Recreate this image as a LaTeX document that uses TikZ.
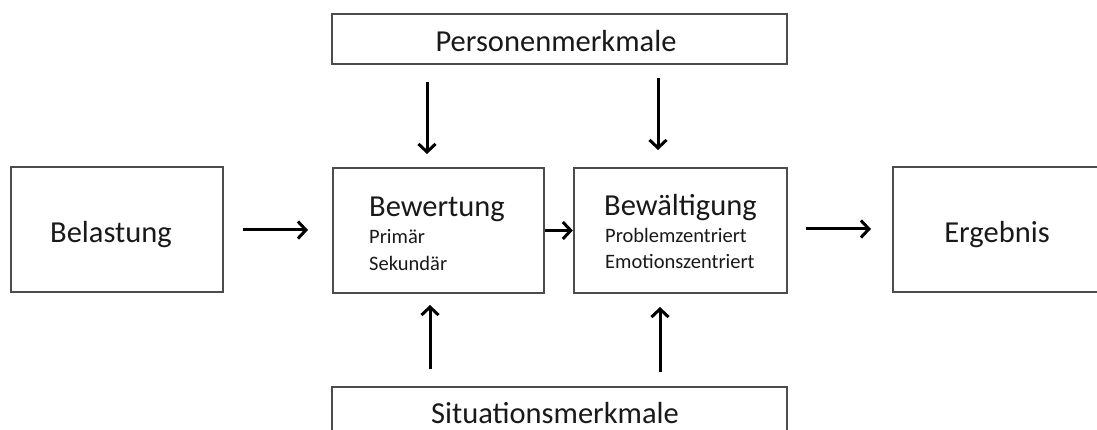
\documentclass[tikz,border=0pt]{standalone}
\usepackage{fontspec}
\setmainfont{Carlito}
\usetikzlibrary{arrows.meta}
\begin{document}
\begin{tikzpicture}[x=1pt,y=-1pt,
  box/.style={draw=black!70,line width=2.3pt,rectangle,inner sep=0pt},
  big/.style={font=\fontsize{30.5}{36}\selectfont,anchor=base,inner sep=0pt,text=black!90},
  bigl/.style={font=\fontsize{30.5}{36}\selectfont,anchor=base west,inner sep=0pt,text=black!90},
  small/.style={font=\fontsize{20.5}{24}\selectfont,anchor=base west,inner sep=0pt,text=black!90},
  arr/.style={line width=3pt,-{Straight Barb[length=8pt,width=17pt]}}]
\useasboundingbox (0,0) rectangle (1097,430);
\clip (0,0) rectangle (1097,430);
\fill[white] (0,0) rectangle (1097,430);
% boxes
\node[box,minimum width=455pt,minimum height=50pt] (pers) at (559.5,39) {};
\node[box,minimum width=211pt,minimum height=125pt] (bew) at (438.5,230.5) {};
\node[box,minimum width=213pt,minimum height=125pt] (bwg) at (680.5,230.5) {};
\node[box,minimum width=212pt,minimum height=125pt] (bel) at (117,229.5) {};
\node[box,minimum width=212pt,minimum height=125pt] (erg) at (999,229.5) {};
\node[box,minimum width=455pt,minimum height=50pt] (sit) at (559.5,412) {};
% texts
\node[big] (tpers) at (556,52) {Personenmerkmale};
\node[big] (tsit) at (555,423) {Situationsmerkmale};
\node[big] (tbel) at (111,243) {Belastung};
\node[big] (terg) at (997,243) {Ergebnis};
\node[bigl] (tbew) at (369,217) {Bewertung};
\node[small] (tbew1) at (369,244) {Primär};
\node[small] (tbew2) at (369,270) {Sekundär};
\node[bigl] (tbwg) at (604,216) {Bewältigung};
\node[small] (tbwg1) at (605,243) {Problemzentriert};
\node[small] (tbwg2) at (605,269) {Emotionszentriert};
% arrow end points
\coordinate (a1s) at (243,230); \coordinate (a1e) at (308,230);
\coordinate (a3s) at (806,229); \coordinate (a3e) at (871,229);
\coordinate (d1s) at (427,82);  \coordinate (d1e) at (427,154);
\coordinate (d2s) at (658,78);  \coordinate (d2e) at (658,150);
\coordinate (u1s) at (430,369); \coordinate (u1e) at (430,305);
\coordinate (u2s) at (660,372); \coordinate (u2e) at (660,307);
% arrows
\draw[arr] (a1s) -- (a1e);
\draw[arr] (bew.east) -- (bwg.west);
\draw[arr] (a3s) -- (a3e);
\draw[arr] (d1s) -- (d1e);
\draw[arr] (d2s) -- (d2e);
\draw[arr] (u1s) -- (u1e);
\draw[arr] (u2s) -- (u2e);
\end{tikzpicture}
\end{document}
